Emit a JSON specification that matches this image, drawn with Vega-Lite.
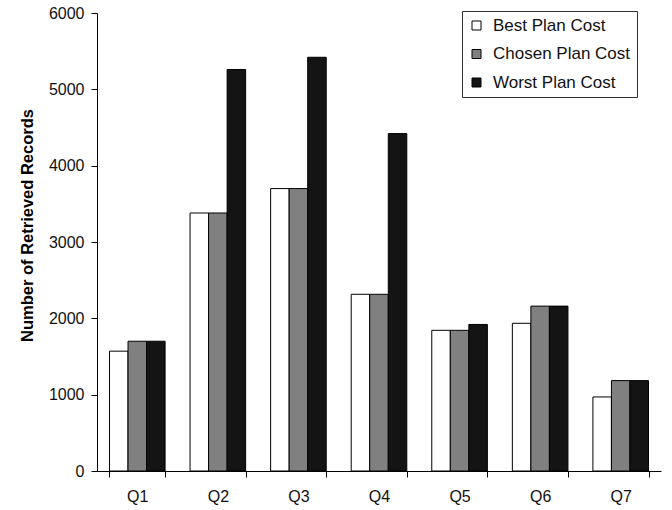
{
  "$schema": "https://vega.github.io/schema/vega-lite/v6.json",
  "width": 564,
  "height": 458,
  "autosize": "none",
  "padding": {"left": 97, "top": 13, "right": 11, "bottom": 39},
  "background": "white",
  "config": {
    "font": "Liberation Sans",
    "view": {"stroke": null},
    "axis": {"domainColor": "black", "tickColor": "black", "labelColor": "#111111", "titleColor": "black", "domainWidth": 1, "tickWidth": 1, "grid": false}
  },
  "data": {
    "values": [
      {"query": "Q1", "plan": "Best Plan Cost", "records": 1570},
      {"query": "Q1", "plan": "Chosen Plan Cost", "records": 1700},
      {"query": "Q1", "plan": "Worst Plan Cost", "records": 1700},
      {"query": "Q2", "plan": "Best Plan Cost", "records": 3380},
      {"query": "Q2", "plan": "Chosen Plan Cost", "records": 3380},
      {"query": "Q2", "plan": "Worst Plan Cost", "records": 5260},
      {"query": "Q3", "plan": "Best Plan Cost", "records": 3700},
      {"query": "Q3", "plan": "Chosen Plan Cost", "records": 3700},
      {"query": "Q3", "plan": "Worst Plan Cost", "records": 5420},
      {"query": "Q4", "plan": "Best Plan Cost", "records": 2315},
      {"query": "Q4", "plan": "Chosen Plan Cost", "records": 2315},
      {"query": "Q4", "plan": "Worst Plan Cost", "records": 4420},
      {"query": "Q5", "plan": "Best Plan Cost", "records": 1843},
      {"query": "Q5", "plan": "Chosen Plan Cost", "records": 1843},
      {"query": "Q5", "plan": "Worst Plan Cost", "records": 1920},
      {"query": "Q6", "plan": "Best Plan Cost", "records": 1935},
      {"query": "Q6", "plan": "Chosen Plan Cost", "records": 2160},
      {"query": "Q6", "plan": "Worst Plan Cost", "records": 2160},
      {"query": "Q7", "plan": "Best Plan Cost", "records": 970},
      {"query": "Q7", "plan": "Chosen Plan Cost", "records": 1184},
      {"query": "Q7", "plan": "Worst Plan Cost", "records": 1184}
    ]
  },
  "mark": {"type": "bar", "stroke": "black", "strokeWidth": 1},
  "encoding": {
    "x": {
      "field": "query",
      "type": "nominal",
      "scale": {"paddingInner": 0.31, "paddingOuter": 0.155},
      "axis": {
        "title": null,
        "labelAngle": 0,
        "labelFontSize": 16,
        "labelPadding": 11,
        "tickSize": 6,
        "tickBand": "extent"
      }
    },
    "xOffset": {"field": "plan", "type": "nominal", "scale": {"paddingInner": 0, "paddingOuter": 0}},
    "y": {
      "field": "records",
      "type": "quantitative",
      "scale": {"domain": [0, 6000], "nice": false},
      "axis": {
        "title": "Number of Retrieved Records",
        "titleFontSize": 16.5,
        "titleFontWeight": "bold",
        "titlePadding": 13,
        "titleY": 212,
        "values": [0, 1000, 2000, 3000, 4000, 5000, 6000],
        "format": "d",
        "labelFontSize": 16,
        "labelPadding": 7,
        "tickSize": 6
      }
    },
    "fill": {
      "field": "plan",
      "type": "nominal",
      "scale": {
        "domain": ["Best Plan Cost", "Chosen Plan Cost", "Worst Plan Cost"],
        "range": ["#ffffff", "#808080", "#141414"]
      },
      "legend": {
        "title": null,
        "orient": "none",
        "legendX": 365,
        "legendY": -2,
        "direction": "vertical",
        "strokeColor": "#333333",
        "padding": 6,
        "rowPadding": 10.5,
        "symbolType": "square",
        "symbolSize": 81,
        "symbolStrokeColor": "black",
        "symbolStrokeWidth": 1,
        "labelFontSize": 17,
        "labelOffset": 8,
        "labelColor": "#111111"
      }
    }
  }
}
